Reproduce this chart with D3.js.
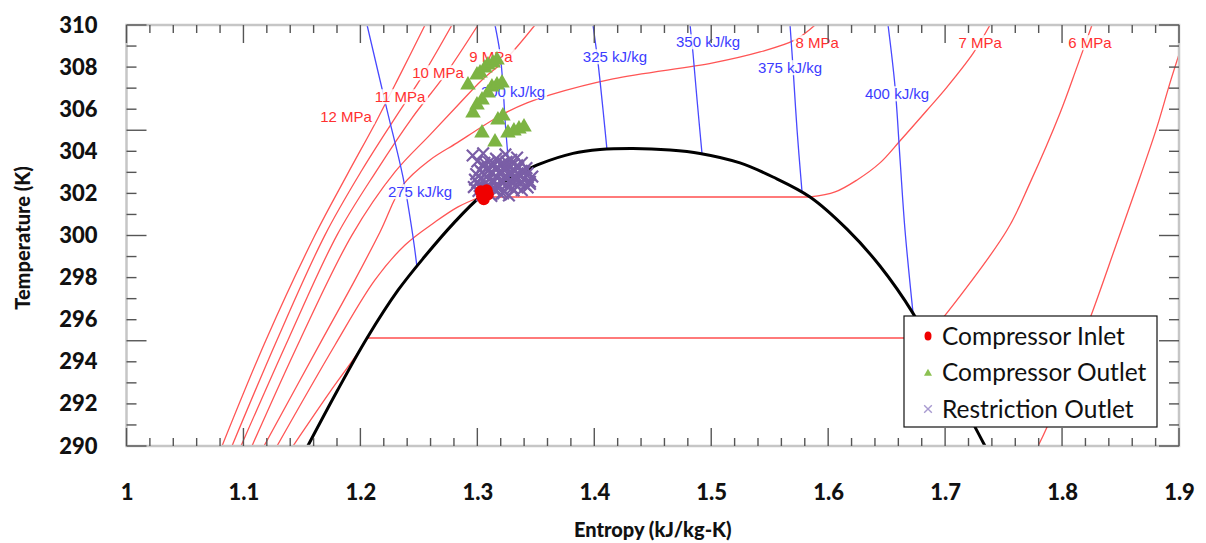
<!DOCTYPE html>
<html>
<head>
<meta charset="utf-8">
<script src="https://cdn.jsdelivr.net/npm/d3@7"></script>
<style>
  body { margin: 0; background: #fff; }
  svg { display: block; }
</style>
</head>
<body>
<div id="viz"></div>
<script>
const margin = {top: 25, right: 27, bottom: 97, left: 126.5};
const width = 1206;
const height = 543;

// Axis values
const xTickLabels = [1, 1.1, 1.2, 1.3, 1.4, 1.5, 1.6, 1.7, 1.8, 1.9];
const yTickLabels = [290, 292, 294, 296, 298, 300, 302, 304, 306, 308, 310];

// Saturation dome (s in kJ/kg-K, T in K)
const dome = [[1.155, 290], [1.1800, 292.60], [1.2057, 295.13], [1.2322, 297.40], [1.2550, 299.00],
  [1.2800, 300.60], [1.3023, 301.83], [1.3194, 302.45], [1.3365, 302.95], [1.3536, 303.40],
  [1.3818, 303.90], [1.4049, 304.08], [1.4331, 304.13], [1.4648, 304.06], [1.4904, 303.90],
  [1.5246, 303.45], [1.5528, 302.78], [1.5845, 301.83], [1.6161, 300.30], [1.6443, 298.55],
  [1.6726, 296.30], [1.6950, 294.00], [1.7150, 292.00], [1.7341, 290]];

// Isobars
const isobar12 = [[1.0817, 290], [1.1193, 295.04], [1.1612, 300.02], [1.1886, 302.88], [1.2142, 305.49], [1.2339, 307.63], [1.2553, 310]];
const isobar11 = [[1.0902, 290], [1.1287, 295.04], [1.1697, 300.02], [1.2014, 303.11], [1.2296, 305.58], [1.2536, 307.63], [1.2783, 310]];
const isobar10 = [[1.0979, 290], [1.1381, 295.04], [1.1800, 300.02], [1.2142, 303.11], [1.2441, 305.58], [1.2724, 307.63], [1.3006, 310]];
const isobar9 = [[1.1073, 290], [1.1484, 295.04], [1.1928, 300.02], [1.2296, 303.02], [1.2595, 304.78], [1.2835, 306.20], [1.3040, 307.39], [1.3237, 308.34], [1.3493, 310]];
const isobar8 = [[1.1176, 290], [1.1672, 295.04], [1.1954, 297.89], [1.2168, 300.17], [1.2364, 302.40], [1.2595, 303.59],
  [1.2826, 304.40], [1.3023, 305.11], [1.3220, 305.77], [1.3425, 306.30], [1.3622, 306.68], [1.4160, 307.44],
  [1.5015, 308.20], [1.5417, 308.72], [1.5717, 309.29], [1.5888, 310]];
const isobar7Liquid = [[1.1287, 290], [1.1783, 294.80], [1.2125, 297.89], [1.2382, 299.55], [1.2638, 300.64], [1.2835, 301.36], [1.3023, 301.83]];
const isobar7Vapor = [[1.5845, 301.83], [1.6059, 302.07], [1.6247, 302.64], [1.6443, 303.45], [1.6615, 304.50], [1.6845, 305.95], [1.7016, 307.05], [1.7239, 308.65], [1.7384, 310]];
const isobar6Liquid = [[1.1424, 290], [1.1740, 292.57], [1.1954, 294.23], [1.2057, 295.13]];
const isobar6Vapor = [[1.6837, 295.13], [1.7016, 296.32], [1.7530, 300.26], [1.7726, 302.50], [1.7983, 305.82], [1.8128, 308.01], [1.8256, 310]];
const isobar5 = [[1.7795, 290], [1.7872, 290.90], [1.8068, 293.61], [1.8256, 296.32], [1.8462, 299.55], [1.8667, 302.78], [1.8812, 305.16], [1.8923, 307.25], [1.9026, 309.05]];

// Isenthalps
const h275 = [[1.2057, 310], [1.2228, 305.96], [1.2364, 302.78], [1.2450, 299.93], [1.2484, 298.50]];
const h300 = [[1.3151, 310], [1.3194, 308.67], [1.3220, 307.06], [1.3237, 305.49], [1.3262, 303.73], [1.3279, 302.62]];
const h325 = [[1.3989, 310], [1.4032, 308.20], [1.4075, 305.96], [1.4109, 304.06]];
const h350 = [[1.4819, 310], [1.4844, 308.67], [1.4879, 306.44], [1.4921, 303.90]];
const h375 = [[1.5674, 310], [1.5699, 308.01], [1.5734, 305.01], [1.5776, 302.10]];
const h400 = [[1.6512, 310], [1.6572, 307.06], [1.6615, 303.59], [1.6657, 300.26], [1.6726, 296.30]];

// Curve labels
const isobarLabels = ['12 MPa', '11 MPa', '10 MPa', '9 MPa', '8 MPa', '7 MPa', '6 MPa'];
const isobarLabelAt = [[1.1877, 305.63], [1.2339, 306.58], [1.2664, 307.72], [1.3117, 308.48], [1.5905, 309.15], [1.7299, 309.15], [1.8239, 309.15]];
const enthalpyLabels = ['275 kJ/kg', '300 kJ/kg', '325 kJ/kg', '350 kJ/kg', '375 kJ/kg', '400 kJ/kg'];
const enthalpyLabelAt = [[1.2510, 302.07], [1.3305, 306.82], [1.4177, 308.48], [1.4973, 309.19], [1.5674, 307.96], [1.6589, 306.72]];

// Measured states
const compressorInlet = [[1.3040, 301.85], [1.3065, 302.02], [1.3090, 301.95], [1.3055, 301.72], [1.3080, 302.15], [1.3030, 302.10]];
const compressorOutlet = [[1.2920, 307.15], [1.2997, 307.63], [1.3023, 307.72], [1.3065, 307.96], [1.3091, 308.10],
  [1.3134, 308.20], [1.3168, 308.34], [1.2963, 305.82], [1.2997, 306.20], [1.3040, 306.44], [1.3091, 306.77],
  [1.3125, 307.06], [1.3168, 307.15], [1.3211, 307.25], [1.3040, 304.87], [1.3151, 304.44], [1.3176, 305.49],
  [1.3219, 305.68], [1.3262, 304.87], [1.3313, 304.97], [1.3356, 305.06], [1.3399, 305.16]];
const restrictionOutlet = [
  [1.304, 301.92], [1.312, 301.88], [1.320, 301.95], [1.327, 301.90],
  [1.301, 302.12], [1.308, 302.08], [1.316, 302.15], [1.323, 302.10], [1.331, 302.14],
  [1.303, 302.32], [1.311, 302.28], [1.318, 302.35], [1.326, 302.30], [1.334, 302.33], [1.343, 302.28],
  [1.300, 302.52], [1.307, 302.48], [1.314, 302.55], [1.321, 302.50], [1.329, 302.53], [1.337, 302.47], [1.345, 302.55],
  [1.303, 302.72], [1.310, 302.68], [1.317, 302.75], [1.324, 302.70], [1.332, 302.73], [1.340, 302.68],
  [1.299, 302.92], [1.306, 302.88], [1.313, 302.95], [1.320, 302.90], [1.328, 302.93], [1.336, 302.87], [1.343, 302.95],
  [1.302, 303.12], [1.309, 303.08], [1.316, 303.15], [1.323, 303.10], [1.331, 303.13], [1.338, 303.07],
  [1.305, 303.32], [1.313, 303.28], [1.320, 303.35], [1.327, 303.30], [1.334, 303.33],
  [1.300, 303.52], [1.310, 303.48], [1.318, 303.55], [1.325, 303.50], [1.338, 303.45],
  [1.296, 303.80], [1.305, 303.90], [1.324, 303.85], [1.334, 303.70], [1.347, 302.80], [1.297, 302.30],
  [1.306, 302.00], [1.314, 302.20], [1.322, 302.00], [1.330, 302.25], [1.338, 302.15], [1.309, 302.40],
  [1.317, 302.45], [1.325, 302.42], [1.333, 302.60], [1.341, 302.40], [1.305, 302.62], [1.313, 302.60],
  [1.321, 302.65], [1.329, 302.62], [1.337, 302.80], [1.308, 302.80], [1.316, 302.82], [1.324, 302.85],
  [1.332, 302.85], [1.340, 303.00], [1.304, 303.00], [1.312, 303.02], [1.320, 303.05], [1.328, 303.00],
  [1.335, 303.20], [1.309, 303.22], [1.317, 303.25], [1.324, 303.22], [1.331, 303.40], [1.314, 303.42],
  [1.322, 303.45], [1.306, 303.45], [1.329, 303.60], [1.316, 303.65], [1.342, 303.20], [1.345, 302.45],
  [1.298, 302.65], [1.302, 302.35]];

const legendLabels = ['Compressor Inlet', 'Compressor Outlet', 'Restriction Outlet'];

const redLine = '#ff5555';
const blueLine = '#4848ff';
const green = '#7db443';
const purple = '#7a5ea6';
const fontBold = 'Lato, "Liberation Sans", sans-serif';

const svg = d3.select('#viz')
  .append('svg')
    .attr('width', width)
    .attr('height', height);

const xScale = d3.scaleLinear()
  .domain([1, 1.9])
  .range([margin.left, width - margin.right]);
const yScale = d3.scaleLinear()
  .domain([290, 310])
  .range([height - margin.bottom, margin.top]);

svg.append('defs').append('clipPath')
    .attr('id', 'plot-clip')
  .append('rect')
    .attr('x', margin.left)
    .attr('y', margin.top)
    .attr('width', width - margin.left - margin.right)
    .attr('height', height - margin.top - margin.bottom);

const plot = svg.append('g').attr('clip-path', 'url(#plot-clip)');

const smooth = d3.line()
  .x(d => xScale(d[0]))
  .y(d => yScale(d[1]))
  .curve(d3.curveCatmullRom.alpha(0.5));
const straight = d3.line()
  .x(d => xScale(d[0]))
  .y(d => yScale(d[1]));

// Isobars
const isobarGroup = plot.append('g')
    .attr('fill', 'none')
    .attr('stroke', redLine)
    .attr('stroke-width', 1.3);
[isobar12, isobar11, isobar10, isobar9, isobar8, isobar7Liquid, isobar7Vapor, isobar6Liquid, isobar6Vapor, isobar5]
  .forEach(pts => isobarGroup.append('path').attr('d', smooth(pts)));

// Tie lines inside the dome
[[isobar7Liquid[isobar7Liquid.length - 1], isobar7Vapor[0]], [isobar6Liquid[isobar6Liquid.length - 1], isobar6Vapor[0]]]
  .forEach(pts => plot.append('path')
    .attr('d', straight(pts))
    .attr('fill', 'none')
    .attr('stroke', '#ff7a7a')
    .attr('stroke-width', 2));

// Isenthalps
const hGroup = plot.append('g')
    .attr('fill', 'none')
    .attr('stroke', blueLine)
    .attr('stroke-width', 1.3);
[h275, h300, h325, h350, h375, h400].forEach(pts => hGroup.append('path').attr('d', smooth(pts)));

// Saturation dome
plot.append('path')
    .attr('d', smooth(dome))
    .attr('fill', 'none')
    .attr('stroke', '#000')
    .attr('stroke-width', 3);

// Curve labels with white boxes
const addLabel = (text, at, color) => {
  const g = plot.append('g');
  const t = g.append('text')
      .attr('x', xScale(at[0]))
      .attr('y', yScale(at[1]))
      .attr('dy', '0.35em')
      .attr('text-anchor', 'middle')
      .attr('fill', color)
      .style('font-family', '"Liberation Sans", Arial, sans-serif')
      .style('font-size', '15px')
      .text(text);
  const b = t.node().getBBox();
  g.insert('rect', 'text')
      .attr('x', b.x - 2)
      .attr('y', b.y + 1)
      .attr('width', b.width + 4)
      .attr('height', b.height - 2)
      .attr('fill', '#fff')
      .attr('fill-opacity', 0.85);
};
isobarLabels.forEach((d, i) => addLabel(d, isobarLabelAt[i], '#ff3030'));
enthalpyLabels.forEach((d, i) => addLabel(d, enthalpyLabelAt[i], '#3c3cff'));

// Data points
plot.append('g')
  .selectAll('path')
  .data(restrictionOutlet)
  .join('path')
    .attr('transform', d => `translate(${xScale(d[0])},${yScale(d[1])})`)
    .attr('d', d3.symbol(d3.symbolX, 90))
    .attr('fill', 'none')
    .attr('stroke', purple)
    .attr('stroke-width', 2.2);

plot.append('g')
  .selectAll('circle')
  .data(compressorInlet)
  .join('circle')
    .attr('cx', d => xScale(d[0]))
    .attr('cy', d => yScale(d[1]))
    .attr('r', 6)
    .attr('fill', '#f00000');

plot.append('g')
  .selectAll('path')
  .data(compressorOutlet)
  .join('path')
    .attr('transform', d => `translate(${xScale(d[0])},${yScale(d[1])})`)
    .attr('d', d3.symbol(d3.symbolTriangle, 105))
    .attr('fill', green);

// Frame and ticks
const x0 = xScale(1), x1 = xScale(1.9), y0 = yScale(290), y1 = yScale(310);
svg.append('rect')
    .attr('x', x0)
    .attr('y', y1)
    .attr('width', x1 - x0)
    .attr('height', y0 - y1)
    .attr('fill', 'none')
    .attr('stroke', '#c6c6c6')
    .attr('stroke-width', 2.5);

const ticks = svg.append('g')
    .attr('stroke', '#555')
    .attr('stroke-width', 1.4);
d3.range(0, 46).map(i => 1 + i * 0.02).forEach((v, i) => {
  const len = i % 5 === 0 ? 18 : 8;
  ticks.append('line').attr('x1', xScale(v)).attr('x2', xScale(v)).attr('y1', y0).attr('y2', y0 - len);
  ticks.append('line').attr('x1', xScale(v)).attr('x2', xScale(v)).attr('y1', y1).attr('y2', y1 + len);
});
d3.range(290, 311).forEach(v => {
  const len = v % 5 === 0 ? 20 : 10;
  ticks.append('line').attr('x1', x0).attr('x2', x0 + len).attr('y1', yScale(v)).attr('y2', yScale(v));
  ticks.append('line').attr('x1', x1).attr('x2', x1 - len).attr('y1', yScale(v)).attr('y2', yScale(v));
});

// Tick labels
const xAxis = d3.axisBottom(xScale)
  .tickValues(xTickLabels)
  .tickSize(0)
  .tickPadding(38)
  .tickFormat(d3.format(''));
svg.append('g')
    .attr('transform', `translate(0, ${y0})`)
    .call(xAxis)
    .call(g => g.select('.domain').remove())
    .selectAll('text')
      .attr('fill', '#111')
      .style('font-family', fontBold)
      .style('font-size', '22px')
      .style('font-weight', 900);

const yAxis = d3.axisLeft(yScale)
  .tickValues(yTickLabels)
  .tickSize(0)
  .tickPadding(29);
svg.append('g')
    .attr('transform', `translate(${x0}, 0)`)
    .call(yAxis)
    .call(g => g.select('.domain').remove())
    .selectAll('text')
      .attr('fill', '#111')
      .style('font-family', fontBold)
      .style('font-size', '22px')
      .style('font-weight', 900);

// Axis titles
svg.append('text')
    .attr('x', (x0 + x1) / 2)
    .attr('y', 537)
    .attr('text-anchor', 'middle')
    .attr('fill', '#111')
    .style('font-family', fontBold)
    .style('font-size', '20px')
    .style('font-weight', 900)
    .text('Entropy (kJ/kg-K)');
svg.append('text')
    .attr('transform', 'translate(30, 238) rotate(-90)')
    .attr('text-anchor', 'middle')
    .attr('fill', '#111')
    .style('font-family', fontBold)
    .style('font-size', '20px')
    .style('font-weight', 900)
    .text('Temperature (K)');

// Legend
const legend = svg.append('g').attr('transform', 'translate(904, 316)');
legend.append('rect')
    .attr('width', 253)
    .attr('height', 111)
    .attr('fill', '#fff')
    .attr('stroke', '#111')
    .attr('stroke-width', 1.2);
const legendRows = legend.selectAll('g')
  .data(legendLabels)
  .join('g')
    .attr('transform', (d, i) => `translate(0, ${20 + i * 36.5})`);
legendRows.append('text')
    .attr('x', 38)
    .attr('dy', '0.35em')
    .attr('fill', '#111')
    .style('font-family', 'Lato, "Liberation Sans", sans-serif')
    .style('font-size', '24.5px')
    .text(d => d);
legendRows.filter((d, i) => i === 0).append('ellipse')
    .attr('cx', 24).attr('rx', 3.5).attr('ry', 4.5)
    .attr('fill', '#f00000');
legendRows.filter((d, i) => i === 1).append('path')
    .attr('transform', 'translate(24, 1)')
    .attr('d', d3.symbol(d3.symbolTriangle, 28))
    .attr('fill', '#8cc152');
legendRows.filter((d, i) => i === 2).append('path')
    .attr('transform', 'translate(24, 0)')
    .attr('d', d3.symbol(d3.symbolX, 40))
    .attr('fill', 'none')
    .attr('stroke', '#a89ad0')
    .attr('stroke-width', 1.4);
</script>
</body>
</html>
